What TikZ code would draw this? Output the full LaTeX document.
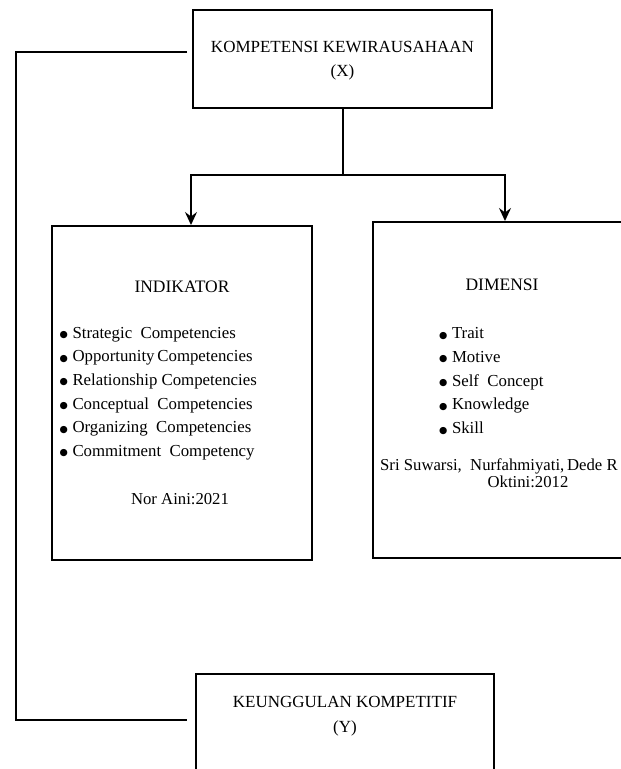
\documentclass[tikz,border=0pt]{standalone}
\usepackage{fontspec}
\setmainfont{Liberation Serif}
\newfontfamily\dotfont{DejaVu Sans}
\usetikzlibrary{arrows.meta}

\newcommand{\itemdot}{\makebox[12.8pt][l]{\raisebox{0.6pt}{\dotfont\fontsize{9.5}{9.5}\selectfont ●}}}

\begin{document}
\begin{tikzpicture}[
  x=1pt, y=-1pt,
  box/.style={draw, line width=2pt, inner sep=0pt},
  link/.style={draw, line width=2pt},
  arrow/.style={-{Stealth[length=13pt, width=12pt, inset=4.5pt]}},
  caption/.style={font=\fontsize{17}{24.5}\selectfont, align=center},
  items/.style={font=\fontsize{16.8}{23.7}\selectfont, align=left, anchor=west, inner sep=0pt},
  cite/.style={font=\fontsize{16.7}{17}\selectfont, inner sep=0pt}
]
\clip (0,0) rectangle (621,769);

% Boxes
\node[box, minimum width=299pt, minimum height=98pt] (kx) at (342.5,59) {};
\node[box, minimum width=260pt, minimum height=334pt] (ind) at (182,393) {};
\node[box, minimum width=258pt, minimum height=336pt] (dim) at (502,390) {};
\node[box, minimum width=298pt, minimum height=100pt] (ky) at (345,724) {};

% Texts
\node[caption] (kxtext) at (342.5,60.5) {KOMPETENSI KEWIRAUSAHAAN\\(X)};
\node[caption] (kytext) at (345,716) {KEUNGGULAN KOMPETITIF\\(Y)};

\node[caption, font=\fontsize{17.5}{20}\selectfont] (indtitle) at (182,287) {INDIKATOR};
\node[items] (indlist) at (59.5,393.5) {\itemdot Strategic\ \ Competencies\\
  \itemdot Opportunity\,Competencies\\
  \itemdot Relationship Competencies\\
  \itemdot Conceptual\ \ Competencies\\
  \itemdot Organizing\ \ Competencies\\
  \itemdot Commitment\ \ Competency};
\node[cite] (indsrc) at (180,499) {Nor Aini:2021};

\node[caption, font=\fontsize{17.5}{20}\selectfont] (dimtitle) at (502,285) {DIMENSI};
\node[items] (dimlist) at (439,381) {\itemdot Trait\\
  \itemdot Motive\\
  \itemdot Self\ \ Concept\\
  \itemdot Knowledge\\
  \itemdot Skill};
\node[cite, anchor=west] (dimsrc) at (380,466) {Sri Suwarsi,\ \ Nurfahmiyati,\,Dede R};
\node[cite] (dimyear) at (528,482) {Oktini:2012};

% Connectors
\coordinate (rail) at (16,720);
\coordinate (split) at ([yshift=-66pt]kx.south);
\draw[link] ([xshift=-5pt, yshift=7pt]kx.west) -| (rail) -- ([xshift=-8pt]ky.west |- rail);
\draw[link] (kx.south) -- (split);
\draw[link, arrow] (split) -| ([xshift=9pt]ind.north);
\draw[link, arrow] (split) -| ([xshift=3pt]dim.north);

\end{tikzpicture}
\end{document}
